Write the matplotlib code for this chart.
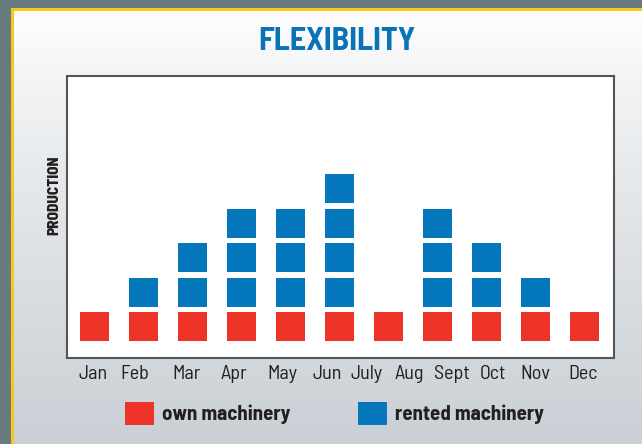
import numpy as np
import matplotlib.pyplot as plt
from matplotlib.patches import Rectangle, Patch

# data
months = ["Jan", "Feb", "Mar", "Apr", "May", "Jun", "July", "Aug", "Sept", "Oct", "Nov", "Dec"]
month_pos = [-0.03, 0.83, 1.87, 2.85, 3.83, 4.74, 5.56, 6.42, 7.29, 8.13, 8.99, 9.97]
slots = list(range(11))
own = [1, 1, 1, 1, 1, 1, 1, 1, 1, 1, 1]
rented = [0, 1, 2, 3, 3, 4, 0, 3, 2, 1, 0]

red = "#ee3329"
blue = "#0477bd"
ink = "#231f20"
narrow = ["Barlow Semi Condensed", "DejaVu Sans"]

fig = plt.figure(figsize=(6.42, 4.44), dpi=100, facecolor="#677a80")

# yellow frame + gradient panel
fig.patches.append(Rectangle((11 / 642, 0), 1, 1 - 8 / 444, transform=fig.transFigure,
                             facecolor="#f7c817", edgecolor="none", zorder=-3))
bg = fig.add_axes([14 / 642, 0, 1 - 14 / 642, 1 - 11 / 444], zorder=-2)
grad = np.linspace(0, 1, 256).reshape(-1, 1)
top = np.array([1.0, 1.0, 1.0])
bot = np.array([0.79, 0.815, 0.835])
img = top + (bot - top) * grad[..., None] ** 0.8
bg.imshow(img, aspect="auto", extent=(0, 1, 0, 1))
bg.set_axis_off()

ax = fig.add_axes([67 / 642, 1 - 358 / 444, 547 / 642, 282 / 444])
ax.set_facecolor("white")

w = 29 / 49
h = 29 / 34.5
ax.bar(slots, [h * v for v in own], width=w, bottom=0, color=red, align="center")
for level in range(max(rented)):
    xs = [s for s, r in zip(slots, rented) if r > level]
    ax.bar(xs, [h] * len(xs), width=w, bottom=level + 1, color=blue, align="center")

ax.set_xlim(-0.561, 10.602)
ax.set_ylim(-0.49, 7.68)
ax.set_xticks(month_pos)
ax.set_xticklabels(months, fontsize=14.5, color=ink, family=narrow)
ax.tick_params(axis="x", length=0, pad=5)
ax.set_yticks([])
for s in ax.spines.values():
    s.set_color("#555555")
    s.set_linewidth(1.5)

fig.text(337 / 642, 1 - 42 / 444, "FLEXIBILITY", ha="center", va="center",
         fontsize=23, fontweight="bold", color="#0a73b8", family=narrow)
fig.text(54 / 642, 1 - 195 / 444, "PRODUCTION", ha="center", va="center", rotation=90,
         fontsize=11, fontweight=800, color=ink, family=narrow)

handles = [Patch(facecolor=red, label="own machinery"),
           Patch(facecolor=blue, label="rented machinery")]
leg = fig.legend(handles=handles, ncol=2, loc="center", bbox_to_anchor=(334.5 / 642, 1 - 413.5 / 444),
                 frameon=False, handlelength=1.39, handleheight=1.39, handletextpad=0.38,
                 columnspacing=3.27,
                 prop={"family": narrow, "weight": "bold", "size": 15})
for t in leg.get_texts():
    t.set_color(ink)

fig.savefig("out.png", dpi=100, facecolor=fig.get_facecolor())
